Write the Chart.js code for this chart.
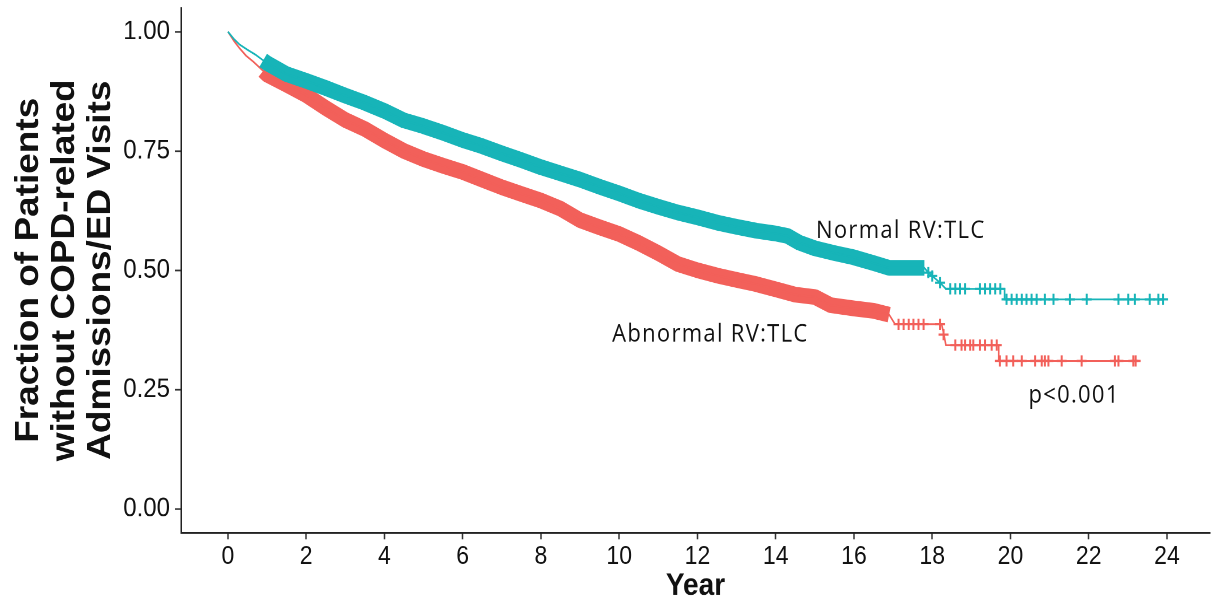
<!DOCTYPE html>
<html>
<head>
<meta charset="utf-8">
<script src="https://cdn.jsdelivr.net/npm/chart.js@4.4.1/dist/chart.umd.min.js"></script>
<style>
	html, body { margin: 0; padding: 0; background: #fff; }
	body { width: 1217px; height: 599px; }
	/* the source figure is a little stretched vertically, so draw short and stretch */
	#wrap { width: 1217px; height: 535px; transform: scaleY(1.12); transform-origin: 0 0; }
</style>
</head>
<body>
<div id="wrap"><canvas id="km"></canvas></div>
<script>
// survival curves (year, fraction)
var normalT = [0, 0.15, 0.3, 0.5, 0.7, 0.9, 1.0, 1.5, 2.0, 2.5, 3.0, 3.5, 4.0, 4.5, 5.0, 5.5, 6.0, 6.5, 7.0, 7.5, 8.0, 8.5, 9.0, 9.5, 10.0, 10.5, 11.0, 11.5, 12.0, 12.5, 13.0, 13.5, 14.0, 14.3, 14.6, 15.0, 15.5, 16.0, 16.5, 16.9, 17.8, 17.9, 18.0, 18.2, 18.35, 19.85, 19.85, 23.9];
var normalS = [1.000, 0.985, 0.973, 0.962, 0.952, 0.940, 0.934, 0.911, 0.897, 0.882, 0.866, 0.851, 0.834, 0.814, 0.802, 0.788, 0.773, 0.760, 0.745, 0.731, 0.716, 0.703, 0.690, 0.675, 0.661, 0.646, 0.633, 0.621, 0.611, 0.600, 0.591, 0.583, 0.577, 0.572, 0.558, 0.546, 0.536, 0.527, 0.515, 0.505, 0.505, 0.495, 0.488, 0.474, 0.461, 0.461, 0.439, 0.439];

var abnormalT = [0, 0.16, 0.3, 0.46, 0.65, 0.9, 1.0, 1.5, 2.0, 2.5, 3.0, 3.5, 4.0, 4.5, 5.0, 5.5, 6.0, 6.5, 7.0, 7.5, 8.0, 8.5, 9.0, 9.5, 10.0, 10.5, 11.0, 11.5, 12.0, 12.5, 13.0, 13.5, 14.0, 14.5, 15.0, 15.4, 16.0, 16.5, 16.9, 17.05, 18.24, 18.3, 18.35, 19.7, 19.7, 23.2];
var abnormalS = [1.000, 0.980, 0.965, 0.950, 0.937, 0.918, 0.910, 0.889, 0.867, 0.840, 0.815, 0.796, 0.772, 0.750, 0.733, 0.719, 0.706, 0.690, 0.674, 0.660, 0.646, 0.629, 0.605, 0.590, 0.576, 0.557, 0.536, 0.513, 0.500, 0.489, 0.480, 0.471, 0.460, 0.449, 0.444, 0.427, 0.420, 0.415, 0.407, 0.387, 0.387, 0.365, 0.343, 0.343, 0.310, 0.310];

// censor marks where they are still separate
var normalCensor = [[17.9, 0.495], [18.0, 0.488], [18.2, 0.474], [18.46, 0.461], [18.59, 0.461], [18.71, 0.461], [18.84, 0.461], [19.22, 0.461], [19.35, 0.461], [19.48, 0.461], [19.61, 0.461], [19.74, 0.461],
	[19.90, 0.439], [20.03, 0.439], [20.16, 0.439], [20.29, 0.439], [20.41, 0.439], [20.54, 0.439], [20.67, 0.439], [20.88, 0.439], [21.10, 0.439], [21.52, 0.439], [21.95, 0.439], [22.76, 0.439], [23.01, 0.439], [23.18, 0.439], [23.56, 0.439], [23.78, 0.439], [23.90, 0.439]];
var abnormalCensor = [[17.14, 0.387], [17.27, 0.387], [17.40, 0.387], [17.52, 0.387], [17.65, 0.387], [17.78, 0.387], [18.20, 0.387], [18.29, 0.365],
	[18.59, 0.343], [18.75, 0.343], [18.84, 0.343], [18.97, 0.343], [19.05, 0.343], [19.22, 0.343], [19.35, 0.343], [19.52, 0.343], [19.65, 0.343],
	[19.73, 0.310], [19.90, 0.310], [20.07, 0.310], [20.29, 0.310], [20.63, 0.310], [20.80, 0.310], [20.88, 0.310], [20.97, 0.310], [21.31, 0.310], [21.82, 0.310], [22.67, 0.310], [22.76, 0.310], [23.14, 0.310], [23.20, 0.310]];

var xTicks = [0, 2, 4, 6, 8, 10, 12, 14, 16, 18, 20, 22, 24];
var yTicks = [0, 0.25, 0.5, 0.75, 1.0];
var yTitle = ['Fraction of Patients', 'without COPD-related', 'Admissions/ED Visits'];

var notes = [
	{ text: 'Normal RV:TLC', x: 15.03, y: 0.582 },
	{ text: 'Abnormal RV:TLC', x: 9.82, y: 0.365 },
	{ text: 'p<0.001', x: 20.46, y: 0.237 }
];

var teal = '#17B4B8';
var salmon = '#F2605A';
var arial = '"Liberation Sans", Arial, sans-serif';

function pts(t, s) {
	return t.map((v, i) => ({ x: v, y: s[i] }));
}
// the dense run of censor marks shows as a thick band
function band(t, s, lo, hi) {
	return pts(t, s).filter(p => p.x >= lo && p.x <= hi);
}
function marks(c) {
	return c.map(p => ({ x: p[0], y: p[1] }));
}

var lineStyle = { pointRadius: 0, tension: 0, fill: false };
var bandStyle = { pointRadius: 0, tension: 0, fill: false, borderWidth: 14, borderCapStyle: 'butt', borderJoinStyle: 'round' };
var markStyle = { showLine: false, pointStyle: 'cross', pointRadius: 5, pointBorderWidth: 2 };

var notesPlugin = {
	id: 'notes',
	afterDatasetsDraw(chart) {
		var ctx = chart.ctx;
		ctx.save();
		ctx.font = '22px "Open Sans", sans-serif';
		ctx.letterSpacing = '1.3px';
		ctx.fillStyle = '#111';
		ctx.textBaseline = 'middle';
		notes.forEach(n => {
			ctx.fillText(n.text, chart.scales.x.getPixelForValue(n.x), chart.scales.y.getPixelForValue(n.y));
		});
		ctx.restore();
	}
};

new Chart(document.getElementById('km'), {
	type: 'line',
	data: {
		datasets: [
			Object.assign({ data: pts(normalT, normalS), borderColor: teal, borderWidth: 1.6 }, lineStyle),
			Object.assign({ data: band(normalT, normalS, 0.9, 17.8), borderColor: teal }, bandStyle),
			Object.assign({ data: marks(normalCensor), borderColor: teal }, markStyle),
			Object.assign({ data: pts(abnormalT, abnormalS), borderColor: salmon, borderWidth: 1.6 }, lineStyle),
			Object.assign({ data: band(abnormalT, abnormalS, 0.9, 16.9), borderColor: salmon }, bandStyle),
			Object.assign({ data: marks(abnormalCensor), borderColor: salmon }, markStyle)
		]
	},
	options: {
		responsive: true,
		maintainAspectRatio: false,
		devicePixelRatio: 2,
		animation: false,
		layout: { padding: { left: 0, right: 5, top: 6.5, bottom: 0 } },
		plugins: {
			legend: { display: false },
			tooltip: { enabled: false }
		},
		scales: {
			x: {
				type: 'linear',
				min: -1.2,
				max: 25.1,
				afterBuildTicks: s => { s.ticks = xTicks.map(v => ({ value: v })); },
				afterFit: s => { s.height = 59.4; s.paddingLeft = 0; s.paddingRight = 0; },
				grid: { drawOnChartArea: false, drawTicks: true, tickLength: 6, tickColor: '#333', tickWidth: 1.5 },
				border: { display: true, color: '#222', width: 1.5 },
				ticks: { padding: 2, color: '#111', maxRotation: 0, autoSkip: false, font: { family: arial, size: 23 } },
				title: { display: true, text: 'Year', color: '#111', padding: 0, font: { family: arial, size: 28, weight: 'bold', lineHeight: 0.85 } }
			},
			y: {
				min: -0.05,
				max: 1.05,
				afterBuildTicks: s => { s.ticks = yTicks.map(v => ({ value: v })); },
				afterFit: s => { s.width = 181; s.paddingTop = 0; s.paddingBottom = 0; },
				grid: { drawOnChartArea: false, drawTicks: true, tickLength: 6, tickColor: '#333', tickWidth: 1.5 },
				border: { display: true, color: '#222', width: 1.5 },
				ticks: { padding: 5, color: '#111', font: { family: arial, size: 24 }, callback: v => v.toFixed(2) },
				title: { display: true, text: yTitle, color: '#111', padding: { top: 11, bottom: 0 }, font: { family: arial, size: 33, weight: 'bold', lineHeight: 1.09 } }
			}
		}
	},
	plugins: [notesPlugin]
});
</script>
</body>
</html>
